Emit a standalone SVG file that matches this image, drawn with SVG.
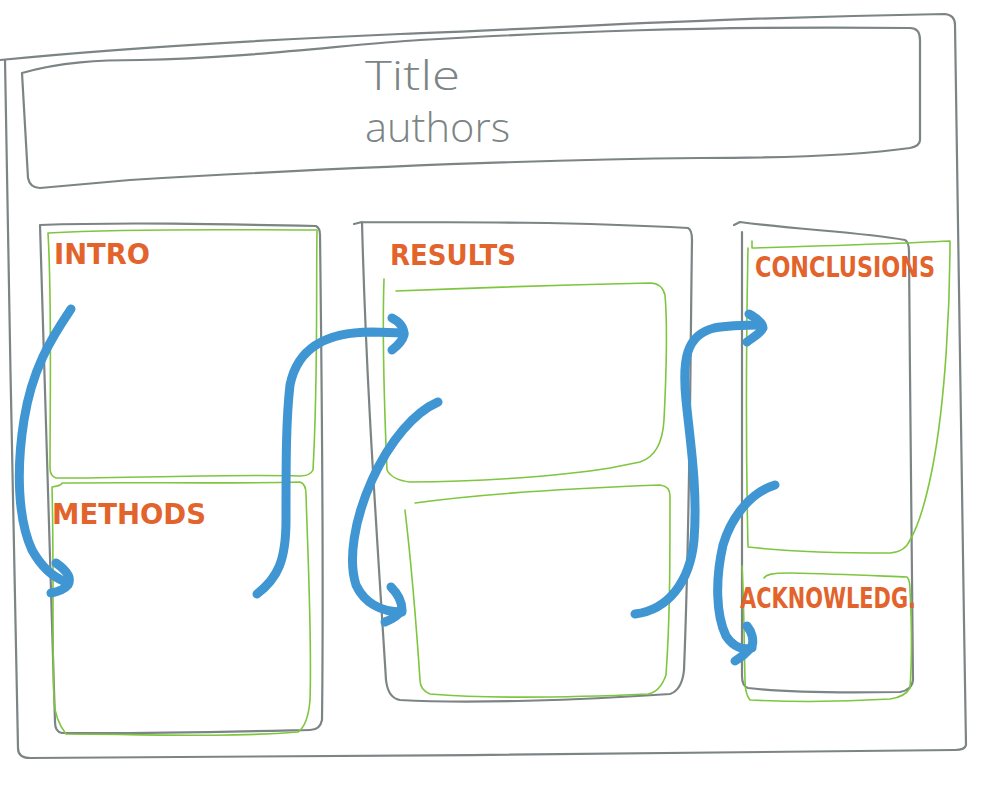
<svg xmlns="http://www.w3.org/2000/svg" width="1000" height="786" viewBox="0 0 1000 786">
<style>
.frame{fill:none;stroke:#7c8485;stroke-width:2.2;stroke-linecap:round;stroke-linejoin:round}
.box{fill:none;stroke:#7ec63f;stroke-width:1.6;stroke-linecap:round;stroke-linejoin:round}
.flow{fill:none;stroke:#3f96d2;stroke-width:9;stroke-linecap:round;stroke-linejoin:round}
.hand{font-family:"Open Sans","Liberation Sans",sans-serif;font-weight:300;fill:#7c8485;font-size:40px}
.lbl{font-family:"DejaVu Sans Condensed","DejaVu Sans",sans-serif;fill:#e2632b;font-size:28px;font-weight:bold}
</style>
<rect width="1000" height="786" fill="#ffffff"/>
<g id="poster">
<path class="frame" d="M0,60 C120,48 260,40 400,34 C560,28 700,18 945,14 Q955,15 955,25 C958,250 962,500 966,745 Q965,750 955,750 C700,752 300,758 30,758 Q18,758 18,748 C14,500 8,300 5,60"/>
</g>
<g id="title">
<path class="frame" d="M22,73 C60,62 100,60 140,60 C250,58 350,44 420,40 C560,32 700,26 910,28 Q920,28 920,40 L920,140 Q920,146 910,148 C860,155 800,158 700,158 C500,160 300,170 130,180 L40,188 Q30,188 28,178 L22,73"/>
<text class="hand" x="365" y="90" textLength="95" lengthAdjust="spacingAndGlyphs">Title</text>
<text class="hand" x="365" y="142" textLength="145" lengthAdjust="spacingAndGlyphs">authors</text>
</g>
<g id="col1">
<path class="frame" d="M40,225 C120,222 220,224 316,226 Q320,228 320,235 C322,400 324,560 322,720 Q320,730 310,730 C220,732 140,734 62,733 Q55,732 55,722 C50,560 45,400 40,225"/>
</g>
<g id="intro">
<path class="box" d="M48,233 C140,228 240,230 317,230 C316,300 318,380 313,470 Q310,476 300,476 C230,474 140,478 56,478 Q50,476 50,468 C50,400 52,300 48,233"/>
<text class="lbl" x="54" y="264" textLength="96" lengthAdjust="spacingAndGlyphs">INTRO</text>
</g>
<g id="methods">
<path class="box" d="M52,487 C60,486 62,484 62,483 C140,482 230,484 300,482 Q306,484 306,494 C308,560 312,640 310,700 Q308,725 298,732 C220,738 140,734 66,734 Q55,720 54,700 C52,640 54,560 52,487"/>
<text class="lbl" x="52" y="524" textLength="154" lengthAdjust="spacingAndGlyphs">METHODS</text>
</g>
<g id="col2">
<path class="frame" d="M354,224 L362,222 C470,222 580,222 688,228 Q692,230 692,240 C690,380 690,520 684,670 Q682,690 670,694 C580,700 470,704 400,700 Q388,698 386,680 C376,520 366,380 362,222"/>
<text class="lbl" x="390" y="265" textLength="126" lengthAdjust="spacingAndGlyphs">RESULTS</text>
</g>
<g id="results1">
<path class="box" d="M384,279 C382,340 384,400 387,470 Q392,480 410,482 C480,482 560,476 610,468 L640,462 Q662,455 664,420 C666,380 668,330 665,295 Q662,283 650,283 C560,285 470,288 396,291"/>
</g>
<g id="results2">
<path class="box" d="M415,503 C480,494 580,488 660,485 Q670,486 670,496 C670,560 670,620 666,675 Q660,692 648,694 C560,698 480,698 430,694 Q420,690 420,680 C416,620 412,570 405,510"/>
</g>
<g id="col3">
<path class="frame" d="M734,225 L740,222 C800,230 860,232 905,240 Q909,242 909,252 C910,400 912,560 913,680 Q912,690 900,692 C840,693 780,692 748,688 Q742,686 742,676 C742,520 742,380 742,232"/>
</g>
<g id="conclusions">
<path class="box" d="M752,241 C752,243 752,246 752,248 C820,246 890,244 950,241 C950,300 946,400 932,470 Q922,520 910,540 Q905,552 890,553 C840,553 790,552 748,547 C746,460 746,350 748,248"/>
<text class="lbl" x="755" y="277" textLength="180" lengthAdjust="spacingAndGlyphs">CONCLUSIONS</text>
</g>
<g id="acknowledg">
<path class="box" d="M764,578 C766,575 770,573 790,573 C840,574 880,576 907,577 Q910,580 910,590 C912,630 912,660 910,688 Q905,697 890,699 C840,702 790,702 750,700 Q745,694 745,680 C744,640 744,600 742,566"/>
<text class="lbl" x="740" y="608" textLength="176" lengthAdjust="spacingAndGlyphs">ACKNOWLEDG.</text>
</g>
<g id="connectors">
<path class="flow" d="M71,309 C50,340 32,370 24,420 C16,470 18,520 32,550 C42,568 55,578 66,582"/>
<path class="flow" d="M56,563 C66,570 72,578 68,585 C64,590 56,592 51,593"/>
<path class="flow" d="M257,594 C278,578 286,560 286,520 C286,460 286,420 290,385 C298,345 330,332 372,332 L404,333"/>
<path class="flow" d="M392,318 C400,322 404,328 404,335 C402,342 396,347 392,350"/>
<path class="flow" d="M438,402 C415,412 390,440 372,480 C354,520 348,560 356,585 C364,602 380,612 402,612"/>
<path class="flow" d="M391,587 C398,594 402,602 402,610 C398,616 390,620 385,622"/>
<path class="flow" d="M635,614 C668,610 690,582 694,540 C698,490 690,440 686,400 C682,360 686,335 714,328 C730,325 745,325 762,325"/>
<path class="flow" d="M749,314 C756,318 762,322 763,328 C760,334 752,338 747,342"/>
<path class="flow" d="M775,485 C752,492 732,515 723,545 C715,580 716,615 726,636 C734,648 744,650 752,648"/>
<path class="flow" d="M747,626 C752,632 754,640 752,646 C746,654 740,658 735,661"/>
</g>
</svg>
